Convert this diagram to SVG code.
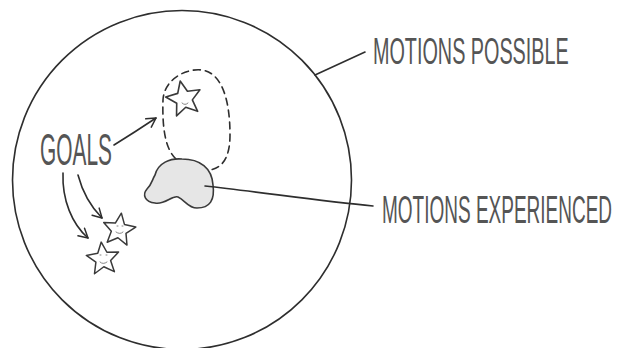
<svg xmlns="http://www.w3.org/2000/svg" width="619" height="348" viewBox="0 0 619 348">
<defs>
<style>
.ln{fill:none;stroke:#2e2e2e;stroke-width:1.6;stroke-linecap:round;stroke-linejoin:round}
.txt{font-family:"Liberation Sans","DejaVu Sans",sans-serif;fill:#555;font-weight:normal}
.star{fill:#fff;stroke:#3a3a3a;stroke-width:1.5;stroke-linejoin:round}
.face{fill:none;stroke:#777;stroke-width:0.9;stroke-linecap:round}
</style>
<marker id="ah" viewBox="0 0 12 12" refX="10" refY="6" markerWidth="12" markerHeight="12" markerUnits="userSpaceOnUse" orient="auto">
<path d="M1,1 L10,6 L1,11" fill="none" stroke="#2e2e2e" stroke-width="1.5" stroke-linecap="round" stroke-linejoin="round"/>
</marker>
<path id="starShape" d="M0,-17 L4.6,-6.3 L16.2,-5.3 L7.4,2.4 L10,13.8 L0,7.8 L-10,13.8 L-7.4,2.4 L-16.2,-5.3 L-4.6,-6.3 Z"/>
</defs>
<rect width="619" height="348" fill="#fff"/>
<g id="motions-possible">
<circle cx="182" cy="180" r="169.5" class="ln" stroke-width="1.8"/>
</g>
<g id="dashed-region">
<path d="M176,159 C166,150 162,130 163,100 C164,80 185,68 202,70 C222,73 230,100 230,135 C230,158 222,168 210,170" class="ln" stroke-dasharray="7,5"/>
</g>
<g id="motions-experienced">
<path d="M155,175 C158,163 170,158 182,159 C200,159 212,168 213,185 C215,200 210,208 197,208 C188,208 185,200 178,197 C172,195 165,205 155,203 C145,202 142,195 147,189 C152,184 152,180 155,175 Z" fill="#e6e6e6" stroke="#3a3a3a" stroke-width="1.6"/>
</g>
<g id="star-top">
<use href="#starShape" class="star" transform="translate(184,99) rotate(-12) scale(1.08)"/>
<path d="M182,103 Q185,106 188,103" class="face"/>
</g>
<g id="star-mid">
<use href="#starShape" class="star" transform="translate(119,230) rotate(8)"/>
<path d="M117,226 L118,226 M122,226 L123,226 M116,232 Q120,235 123,232" class="face"/>
</g>
<g id="star-low">
<use href="#starShape" class="star" transform="translate(103,259) rotate(-6)"/>
<path d="M100,255 L101,255 M106,255 L107,255 M100,262 Q103,265 107,262" class="face"/>
</g>
<g id="connectors">
<path d="M114,145 Q135,132 156,118" class="ln" marker-end="url(#ah)"/>
<path d="M63,173 C62,200 72,224 88,238" class="ln" marker-end="url(#ah)"/>
<path d="M78,175 C83,194 92,208 102,218" class="ln" marker-end="url(#ah)"/>
<path d="M315,75 L365,52" class="ln"/>
<path d="M205,186 C260,192 320,201 373,206" class="ln"/>
</g>
<g id="labels">
<text class="txt" font-size="44" transform="translate(40,165) scale(0.475,1)">GOALS</text>
<text class="txt" font-size="37" transform="translate(373,64) scale(0.535,1)">MOTIONS POSSIBLE</text>
<text class="txt" font-size="38" transform="translate(382,223) scale(0.5,1)">MOTIONS EXPERIENCED</text>
</g>
</svg>
